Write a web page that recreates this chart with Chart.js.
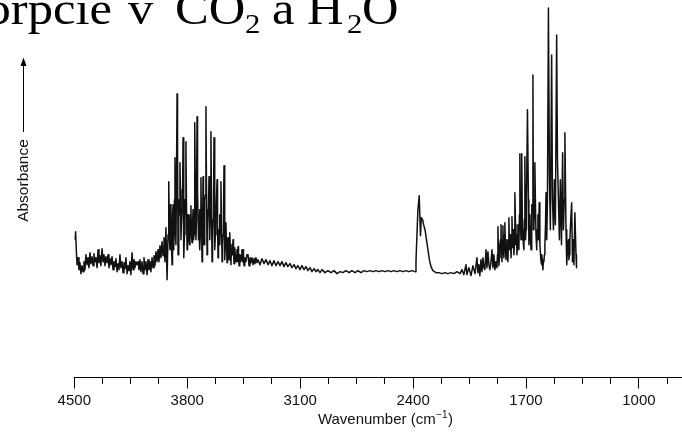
<!DOCTYPE html>
<html>
<head>
<meta charset="utf-8">
<script src="https://cdn.jsdelivr.net/npm/chart.js@4.4.1/dist/chart.umd.min.js"></script>
<style>
html,body{margin:0;padding:0;background:#fff;}
#wrap{width:682px;height:433px;position:relative;overflow:hidden;}
canvas{display:block;}
</style>
</head>
<body>
<div id="wrap"><canvas id="c" width="682" height="433"></canvas></div>
<script>
// ---- data ----
const majorTicks = [1000, 1700, 2400, 3100, 3800, 4500];
const minorTicks = [825, 1000, 1175, 1350, 1525, 1700, 1875, 2050, 2225, 2400, 2575, 2750, 2925, 3100, 3275, 3450, 3625, 3800, 3975, 4150, 4325, 4500];
const xAxisLabel = 'Wavenumber (cm';
const xAxisLabelSup = '\u22121';
const yAxisLabel = 'Absorbance';

const wavenumbers = [
  // 4500-3925 noisy baseline
  4496, 4492, 4487,
  4483, 4477, 4471, 4465, 4459, 4452, 4446, 4440, 4434, 4428,
  4421, 4415, 4409, 4403, 4397, 4390, 4384, 4378, 4372, 4366,
  4359, 4353, 4347, 4341, 4335, 4328, 4322, 4316, 4310, 4304,
  4297, 4291, 4285, 4279, 4273, 4266, 4260, 4254, 4248, 4242,
  4235, 4229, 4223, 4217, 4211, 4204, 4198, 4192, 4186, 4180,
  4173, 4167, 4161, 4155, 4149, 4142, 4136, 4130, 4124, 4118,
  4111, 4105, 4099, 4093, 4087, 4080, 4074, 4068, 4062, 4056,
  4049, 4043, 4037, 4031, 4025, 4018, 4012, 4006, 4000, 3994,
  3987, 3981, 3975, 3969, 3963, 3956, 3950, 3944, 3938, 3932,
  3925,
  // O-H stretch band
  3919, 3916, 3913, 3910, 3907, 3904, 3901, 3898, 3894, 3891,
  3888, 3885, 3882, 3879, 3876, 3873, 3870, 3867, 3863, 3860,
  3857, 3854, 3851, 3848, 3845, 3842, 3839, 3836, 3832, 3829,
  3826, 3823, 3820, 3817, 3814, 3811, 3808, 3805, 3801, 3798,
  3795, 3792, 3789, 3786, 3783, 3780, 3777, 3774, 3770, 3767,
  3764, 3761, 3758, 3755, 3752, 3749, 3746, 3743, 3739, 3736,
  3733, 3730, 3727, 3724, 3721, 3718, 3715, 3712, 3708, 3705,
  3702, 3699, 3696, 3693, 3690, 3687, 3684, 3681, 3677, 3674,
  3671, 3668, 3665, 3662, 3659, 3656, 3653, 3650, 3646, 3643,
  3640, 3637, 3634, 3631, 3628, 3625, 3622, 3619, 3615, 3612,
  3609, 3606, 3603, 3600, 3597, 3594, 3591, 3588, 3584, 3581,
  3578, 3575, 3572, 3569, 3566, 3563, 3560, 3557, 3553, 3550,
  3547, 3544, 3541, 3538, 3535, 3532, 3529, 3526, 3523, 3520,
  3516, 3513, 3510, 3507, 3504, 3501, 3498, 3495, 3492, 3489,
  3485, 3482, 3479, 3476, 3473, 3470, 3467, 3464, 3461, 3458,
  3454, 3451, 3448, 3445,
  3442, 3436, 3430, 3423, 3417, 3411, 3405, 3399, 3392, 3386,
  3380, 3374, 3368,
  // flat region
  3361, 3349, 3337, 3324, 3312, 3299, 3287, 3275, 3262, 3250,
  3237, 3225, 3213, 3200, 3188, 3176, 3163, 3151, 3138, 3126,
  3114, 3101, 3089, 3076, 3064, 3052, 3039, 3027, 3014, 3002,
  2990, 2977, 2965,
  2946, 2928, 2909, 2890, 2872, 2853, 2835, 2816, 2797, 2779,
  2760, 2742, 2723, 2704, 2686, 2667, 2649, 2630, 2611, 2593,
  2574, 2556, 2537, 2519, 2500, 2481, 2463, 2444, 2426, 2407,
  2388,
  // CO2 band
  2382, 2376, 2370, 2362, 2354, 2349, 2341, 2333, 2326, 2317,
  2308, 2299, 2289, 2277, 2258, 2240, 2221, 2202, 2184, 2165,
  2147, 2128, 2109, 2097, 2085,
  // H-O-H bend band
  2072, 2066, 2054, 2041, 2029, 2016,
  2004, 1998, 1992, 1986, 1979, 1973, 1967, 1961, 1955, 1948,
  1942, 1936, 1930, 1924, 1917, 1911, 1905, 1899, 1893, 1886,
  1880, 1877, 1874, 1871, 1868, 1865, 1862, 1858, 1855, 1852,
  1849, 1846, 1843, 1840, 1837, 1834, 1831, 1827, 1824, 1821,
  1818, 1815, 1812, 1809, 1806, 1803, 1800, 1796, 1793, 1790,
  1787, 1784, 1781, 1778, 1775, 1772, 1769, 1765, 1762, 1759,
  1756, 1753, 1750, 1747, 1744, 1741, 1738, 1734, 1731, 1728,
  1725, 1722, 1719, 1716, 1713, 1710, 1707, 1703, 1700, 1697,
  1691, 1685,
  1682, 1679, 1676, 1672, 1669, 1666, 1663, 1660, 1657, 1654,
  1651, 1648, 1645, 1641, 1638, 1635, 1632, 1629, 1626, 1623,
  1618,
  1614, 1610, 1607, 1604, 1601, 1598, 1595, 1592, 1589, 1586,
  1583, 1579, 1576, 1573, 1570, 1567,
  1561, 1555, 1549, 1541, 1536, 1530, 1524, 1518, 1510, 1505,
  1499, 1493, 1487, 1480, 1473, 1468, 1463, 1459,
  1452, 1449, 1446, 1443, 1440, 1437, 1434, 1431, 1428, 1424,
  1417, 1412, 1406, 1403, 1397, 1390, 1387
];

const absorbance = [
  1.38, 1.46, 1.26,
  1.13, 1.20, 1.08, 1.15, 1.04, 1.12, 1.06, 1.16, 1.08, 1.23,
  1.13, 1.20, 1.10, 1.25, 1.14, 1.21, 1.12, 1.24, 1.16, 1.20,
  1.10, 1.28, 1.15, 1.22, 1.12, 1.29, 1.16, 1.23, 1.12, 1.21,
  1.15, 1.23, 1.10, 1.19, 1.13, 1.21, 1.08, 1.16, 1.11, 1.19,
  1.06, 1.14, 1.08, 1.23, 1.10, 1.16, 1.05, 1.15, 1.09, 1.20,
  1.04, 1.12, 1.07, 1.16, 1.03, 1.25, 1.08, 1.18, 1.10, 1.16,
  1.13, 1.16, 1.08, 1.18, 1.06, 1.16, 1.04, 1.20, 1.08, 1.16,
  1.03, 1.18, 1.08, 1.16, 1.06, 1.20, 1.10, 1.22, 1.12, 1.26,
  1.16, 1.28, 1.16, 1.32, 1.20, 1.36, 1.22, 1.40, 1.16, 1.50,
  0.98,
  1.43, 1.58, 1.96, 1.38, 1.28, 1.73, 1.63, 1.33, 1.13, 1.63,
  1.73, 1.48, 1.28, 1.78, 2.20, 1.43, 1.33, 1.88, 2.84, 2.28,
  1.23, 1.48, 1.78, 1.63, 2.15, 1.88, 1.38, 1.53, 1.68, 1.78,
  2.40, 1.68, 1.20, 1.43, 1.78, 1.63, 2.36, 1.78, 1.28, 1.48,
  1.63, 1.53, 1.40, 1.33, 1.53, 1.63, 1.72, 1.43, 1.35, 1.53,
  1.68, 1.38, 1.43, 1.78, 2.55, 1.73, 1.38, 1.58, 2.61, 1.88,
  1.63, 1.38, 1.50, 1.68, 1.28, 1.48, 2.00, 1.58, 1.16, 1.38,
  2.01, 1.63, 1.33, 1.53, 1.78, 1.83, 2.71, 1.98, 1.23, 1.48,
  1.68, 1.73, 2.01, 1.53, 1.38, 1.68, 2.46, 1.78, 1.16, 1.38,
  1.58, 1.78, 2.40, 1.63, 1.28, 1.43, 1.63, 1.78, 1.98, 1.53,
  1.20, 1.38, 1.48, 1.63, 1.33, 1.53, 1.96, 1.58, 1.16, 1.33,
  1.43, 1.68, 2.12, 1.48, 1.18, 1.38, 1.55, 1.33, 1.15, 1.38,
  1.40, 1.23, 1.18, 1.33, 1.45, 1.28, 1.13, 1.28, 1.33, 1.23,
  1.38, 1.26, 1.14, 1.28, 1.30, 1.20, 1.16, 1.23, 1.28, 1.16,
  1.31, 1.23, 1.12, 1.20, 1.23, 1.16, 1.16, 1.23, 1.28, 1.16,
  1.28, 1.20, 1.12, 1.16,
  1.20, 1.16, 1.23, 1.23, 1.12, 1.20, 1.15, 1.20, 1.13, 1.19,
  1.14, 1.20, 1.15,
  1.18, 1.13, 1.19, 1.14, 1.18, 1.13, 1.17, 1.12, 1.17, 1.12,
  1.16, 1.12, 1.16, 1.11, 1.15, 1.11, 1.14, 1.10, 1.13, 1.09,
  1.12, 1.08, 1.12, 1.08, 1.11, 1.07, 1.10, 1.06, 1.09, 1.06,
  1.08, 1.05, 1.08,
  1.05, 1.07, 1.05, 1.07, 1.04, 1.06, 1.05, 1.07, 1.05, 1.07,
  1.05, 1.07, 1.05, 1.07, 1.06, 1.07, 1.06, 1.07, 1.06, 1.07,
  1.06, 1.07, 1.06, 1.07, 1.06, 1.07, 1.06, 1.07, 1.06, 1.07,
  1.06,
  1.16, 1.43, 1.68, 1.82, 1.42, 1.60, 1.58, 1.52, 1.48, 1.38,
  1.28, 1.18, 1.11, 1.07, 1.05, 1.05, 1.04, 1.05, 1.04, 1.05,
  1.04, 1.06, 1.04, 1.08, 1.03,
  1.13, 1.03, 1.10, 1.02, 1.12, 1.04,
  1.20, 1.05, 1.13, 1.02, 1.18, 1.06, 1.20, 1.10, 1.08, 1.28,
  1.10, 1.26, 1.13, 1.08, 1.16, 1.28, 1.10, 1.23, 1.08, 1.16,
  1.10, 1.23, 1.51, 1.28, 1.12, 1.20, 1.33, 1.38, 1.53, 1.23,
  1.16, 1.38, 1.52, 1.28, 1.20, 1.43, 1.55, 1.28, 1.18, 1.33,
  1.38, 1.23, 1.16, 1.38, 1.60, 1.33, 1.28, 1.43, 1.20, 1.33,
  1.61, 1.38, 1.30, 1.48, 1.23, 1.33, 1.85, 1.53, 1.33, 1.43,
  1.23, 1.33, 1.53, 1.43, 1.28, 1.63, 2.24, 1.53, 1.38, 1.63,
  2.24, 1.48, 1.43, 1.33, 1.28, 1.58, 2.21, 1.38, 1.48, 1.78,
  2.68, 1.78,
  1.33, 1.53, 1.63, 1.38, 1.28, 1.53, 1.73, 1.63, 3.03, 1.48,
  1.78, 1.58, 2.15, 1.68, 1.43, 1.28, 1.33, 1.48, 1.63, 1.38,
  1.75,
  1.33, 1.23, 1.16, 1.13, 1.23, 1.16, 1.08, 1.18, 1.16, 1.23,
  1.33, 1.53, 1.85, 1.48, 1.38, 1.78,
  3.70, 2.03, 1.48, 3.23, 1.78, 1.48, 1.98, 1.53, 3.43, 2.18,
  1.78, 1.38, 1.98, 1.33, 2.25, 1.48, 1.78, 2.45,
  1.48, 1.33, 1.13, 1.28, 1.28, 1.38, 1.18, 1.23, 1.38, 1.53,
  1.75, 1.16, 1.38, 1.13, 1.65, 1.23, 1.10
];

if (wavenumbers.length !== absorbance.length) {
  console.error('length mismatch', wavenumbers.length, absorbance.length);
}

// ---- drawing ----
const SANS = '"Liberation Sans", Arial, Helvetica, sans-serif';
const SERIF = '"Liberation Serif", "Times New Roman", serif';

function scaledText(ctx, text, x, y, align) {
  ctx.save();
  ctx.translate(x, y);
  ctx.scale(1.1, 1);
  ctx.textAlign = align;
  ctx.fillText(text, 0, 0);
  ctx.restore();
}

const overlay = {
  id: 'overlay',
  afterDraw(chart) {
    const ctx = chart.ctx;
    ctx.save();
    ctx.fillStyle = '#000';
    ctx.strokeStyle = '#000';

    // heading (partially cut at the top/left edge, as in the reference)
    ctx.textBaseline = 'alphabetic';
    ctx.font = '46px ' + SERIF;
    scaledText(ctx, 'Absorpcie', 112, 24, 'right');
    scaledText(ctx, 'v', 128, 24, 'left');
    scaledText(ctx, 'CO', 175, 24, 'left');
    scaledText(ctx, 'a', 272, 24, 'left');
    scaledText(ctx, 'H', 307, 24, 'left');
    scaledText(ctx, 'O', 362, 24, 'left');
    ctx.font = '28px ' + SERIF;
    scaledText(ctx, '2', 245, 33, 'left');
    scaledText(ctx, '2', 347, 33, 'left');

    // y axis label with arrow
    ctx.save();
    ctx.translate(28, 180.5);
    ctx.rotate(-Math.PI / 2);
    ctx.font = '15.5px ' + SANS;
    ctx.textAlign = 'center';
    ctx.fillStyle = '#111';
    ctx.fillText(yAxisLabel, 0, 0);
    ctx.restore();
    ctx.lineWidth = 1;
    ctx.beginPath();
    ctx.moveTo(23.5, 132);
    ctx.lineTo(23.5, 64);
    ctx.stroke();
    ctx.beginPath();
    ctx.moveTo(23.5, 57.5);
    ctx.lineTo(26.5, 66);
    ctx.lineTo(20.5, 66);
    ctx.closePath();
    ctx.fill();

    // x axis title with superscript
    ctx.fillStyle = '#111';
    ctx.textAlign = 'left';
    ctx.font = '15px ' + SANS;
    const w1 = ctx.measureText(xAxisLabel).width;
    const w3 = ctx.measureText(')').width;
    ctx.font = '10px ' + SANS;
    const w2 = ctx.measureText(xAxisLabelSup).width;
    let x = 385 - (w1 + w2 + w3) / 2;
    ctx.font = '15px ' + SANS;
    ctx.fillText(xAxisLabel, x, 424);
    x += w1;
    ctx.font = '10px ' + SANS;
    ctx.fillText(xAxisLabelSup, x + 0.5, 418);
    x += w2 + 1;
    ctx.font = '15px ' + SANS;
    ctx.fillText(')', x, 424);
    ctx.restore();
  }
};

const points = wavenumbers.map((w, i) => ({ x: w, y: absorbance[i] }));

new Chart(document.getElementById('c'), {
  type: 'line',
  data: {
    datasets: [{
      data: points,
      borderColor: '#111',
      borderWidth: 1.5,
      borderJoinStyle: 'round',
      pointRadius: 0,
      tension: 0,
      fill: false
    }]
  },
  options: {
    responsive: false,
    animation: false,
    events: [],
    layout: { padding: { left: 74.3, right: 0, top: 0, bottom: 20.5 } },
    plugins: { legend: { display: false }, tooltip: { enabled: false }, title: { display: false } },
    scales: {
      x: {
        type: 'linear',
        position: 'bottom',
        min: 733,
        max: 4500,
        reverse: true,
        afterBuildTicks: (scale) => { scale.ticks = majorTicks.map(v => ({ value: v })); },
        ticks: {
          autoSkip: false,
          maxRotation: 0,
          minRotation: 0,
          padding: 3,
          color: '#111',
          font: { family: SANS, size: 15 },
          callback: (v) => String(v)
        },
        grid: { drawOnChartArea: false, drawTicks: true, tickLength: 11, tickColor: '#000', tickWidth: 1 },
        border: { display: true, color: '#000', width: 1 }
      },
      x2: {
        type: 'linear',
        axis: 'x',
        position: { y: 0 },
        min: 733,
        max: 4500,
        reverse: true,
        afterBuildTicks: (scale) => { scale.ticks = minorTicks.map(v => ({ value: v })); },
        ticks: { display: false, autoSkip: false },
        grid: { drawOnChartArea: false, drawTicks: true, tickLength: 6, tickColor: '#000', tickWidth: 1 },
        border: { display: false }
      },
      y: {
        display: false,
        min: 0,
        max: 3.78
      }
    }
  },
  plugins: [overlay]
});
</script>
</body>
</html>
